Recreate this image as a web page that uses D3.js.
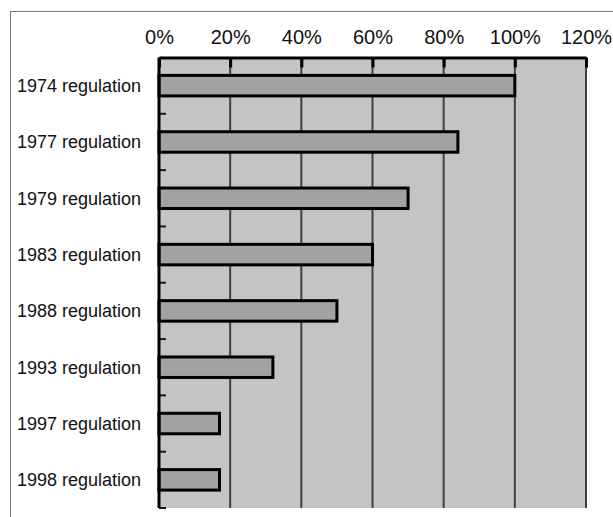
<!DOCTYPE html>
<html>
<head>
<meta charset="utf-8">
<script src="https://cdn.jsdelivr.net/npm/d3@7"></script>
<style>
  html, body { margin: 0; padding: 0; background: #fff; }
  svg { display: block; font-family: "Liberation Sans", Arial, Helvetica, sans-serif; }
</style>
</head>
<body>
<svg id="chart" width="613" height="517"></svg>
<script>
// Share of the 1974 level remaining under each regulation
const categories = ["1974 regulation", "1977 regulation", "1979 regulation", "1983 regulation",
                    "1988 regulation", "1993 regulation", "1997 regulation", "1998 regulation"];
const values = [1.00, 0.84, 0.70, 0.60, 0.50, 0.32, 0.17, 0.17];
const tickValues = [0, 0.2, 0.4, 0.6, 0.8, 1.0, 1.2];

const svg = d3.select("#chart");
const plot = { left: 159, right: 586, top: 57.5, bottom: 508 };

// Outer frame
svg.append("rect")
  .attr("x", 10.5).attr("y", 11.5)
  .attr("width", 700).attr("height", 600)
  .attr("fill", "none").attr("stroke", "#7a7a7a").attr("stroke-width", 1);

const x = d3.scaleLinear().domain([0, 1.2]).range([plot.left, plot.right]);
const y = d3.scaleBand().domain(categories).range([plot.top, plot.bottom])
  .paddingInner(0.636).paddingOuter(0.318);

// Plot background
svg.append("rect")
  .attr("x", plot.left).attr("y", plot.top)
  .attr("width", plot.right - plot.left).attr("height", plot.bottom - plot.top)
  .attr("fill", "#c4c4c4");

// Vertical gridlines
svg.append("g").selectAll("line")
  .data(tickValues.slice(1))
  .join("line")
  .attr("x1", d => x(d)).attr("x2", d => x(d))
  .attr("y1", plot.top).attr("y2", plot.bottom)
  .attr("stroke", "#404040").attr("stroke-width", 2);

// Bars
svg.append("g").selectAll("rect")
  .data(values)
  .join("rect")
  .attr("x", x(0))
  .attr("y", (d, i) => y(categories[i]))
  .attr("width", d => x(d) - x(0))
  .attr("height", y.bandwidth())
  .attr("fill", "#a2a2a2")
  .attr("stroke", "#000").attr("stroke-width", 3);

// Category boundary ticks on the left axis
const step = y.step();
const boundaries = d3.range(1, categories.length + 1).map(i => plot.top + i * step);
svg.append("g").selectAll("line")
  .data(boundaries)
  .join("line")
  .attr("x1", plot.left).attr("x2", plot.left + 7)
  .attr("y1", d => d).attr("y2", d => d)
  .attr("stroke", "#1a1a1a").attr("stroke-width", 2);

// Left axis line
svg.append("line")
  .attr("x1", plot.left).attr("x2", plot.left)
  .attr("y1", plot.top).attr("y2", plot.bottom)
  .attr("stroke", "#000").attr("stroke-width", 3);

// Category labels
svg.append("g").selectAll("text")
  .data(categories)
  .join("text")
  .attr("x", 141)
  .attr("y", d => y(d) + y.bandwidth() / 2)
  .attr("dy", "0.36em")
  .attr("text-anchor", "end")
  .attr("font-size", 18)
  .attr("fill", "#111")
  .text(d => d);

// Top percentage axis
const xAxis = d3.axisTop(x)
  .tickValues(tickValues)
  .tickFormat(d3.format(".0%"))
  .tickSizeInner(-10)
  .tickSizeOuter(0)
  .tickPadding(14);

const gx = svg.append("g")
  .attr("transform", `translate(0,${plot.top})`)
  .call(xAxis);
gx.select(".domain").attr("stroke", "#000").attr("stroke-width", 3);
gx.selectAll(".tick line").attr("stroke", "#000").attr("stroke-width", 3);
gx.selectAll(".tick text")
  .attr("font-size", 20)
  .attr("font-family", "'Liberation Sans', Arial, Helvetica, sans-serif")
  .attr("fill", "#111");
</script>
</body>
</html>
